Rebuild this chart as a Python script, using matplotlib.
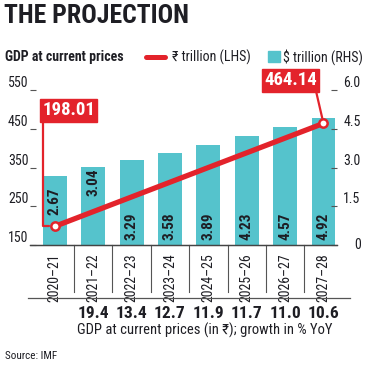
import numpy as np
import matplotlib
matplotlib.use('Agg')
import matplotlib.pyplot as plt
import matplotlib.transforms as mtransforms
from matplotlib.lines import Line2D
from matplotlib.patches import Rectangle

plt.rcParams['font.family'] = ['Roboto Condensed', 'DejaVu Sans']

years = ['2020–21', '2021–22', '2022–23', '2023–24', '2024–25', '2025–26', '2026–27', '2027–28']
usd_trn = [2.67, 3.04, 3.29, 3.58, 3.89, 4.23, 4.57, 4.92]
inr_trn = [198.01, 236.4, 268.1, 302.2, 338.2, 377.8, 419.4, 464.14]
growth = ['19.4', '13.4', '12.7', '11.9', '11.7', '11.0', '10.6']

red = '#e3232b'
cyan = '#55c3cc'
dark = '#1e1e24'

fig = plt.figure(figsize=(3.65, 3.65), dpi=100)
ax2 = fig.add_axes([0.082, 0.329, 0.841, 0.424])
ax = ax2.twinx()
# rupee axis on the left, dollar bars on the right
ax.yaxis.tick_left()
ax2.yaxis.tick_right()

x = np.arange(len(years))
ax2.bar(x, usd_trn, width=0.62, color=cyan, zorder=1)
ax2.set_ylim(0, 6)
ax2.set_xlim(-0.65, 7.35)
ax2.set_yticks([0, 1.5, 3, 4.5, 6])
ax2.set_yticklabels(['0', '1.5', '3.0', '4.5', '6.0'])
ax2.tick_params(axis='y', direction='in', length=4, width=0.8, color='#555555',
                labelsize=10, labelcolor=dark, pad=17)
for lbl in ax2.get_yticklabels():
    lbl.set_ha('right')
    lbl.set_va('bottom')
ax2.get_yticklabels()[0].set_va('center')

for i, v in enumerate(usd_trn):
    if i == 0:
        ax2.text(i, v - 0.45, f'{v:.2f}', rotation=90, ha='center', va='top',
                 fontsize=11, fontweight='bold', color=dark)
    elif i == 1:
        ax2.text(i, v - 0.08, f'{v:.2f}', rotation=90, ha='center', va='top',
                 fontsize=11, fontweight='bold', color=dark)
    else:
        ax2.text(i, 0.18, f'{v:.2f}', rotation=90, ha='center', va='bottom',
                 fontsize=11, fontweight='bold', color=dark)

ax.plot(x[[0, -1]], [inr_trn[0], inr_trn[-1]], color=red, lw=3.8, zorder=3,
        solid_capstyle='round')
ax.plot(x[[0, -1]], [inr_trn[0], inr_trn[-1]], 'o', ms=6, mfc='white', mec=red,
        mew=1.8, zorder=4)
ax.set_ylim(150, 550)
ax.set_yticks([150, 250, 350, 450, 550])
ax.tick_params(axis='y', direction='in', length=4, width=0.8, color='#555555',
               labelsize=10, labelcolor=dark, pad=1)
ax.tick_params(axis='x', bottom=False, labelbottom=False)
for lbl in ax.get_yticklabels():
    lbl.set_va('bottom')

ax.annotate(f'{inr_trn[0]:.2f}', xy=(0, inr_trn[0]), xytext=(0.36, 498),
            ha='center', va='center', fontsize=13.5, fontweight='bold', color='white',
            bbox=dict(boxstyle='square,pad=0.12', fc=red, ec=red),
            arrowprops=dict(arrowstyle='-', color=red, lw=1.6, relpos=(0.02, 0),
                            connectionstyle='angle,angleA=90,angleB=0,rad=0',
                            shrinkA=0, shrinkB=4),
            annotation_clip=False, zorder=5)
ax.annotate(f'{inr_trn[-1]:.2f}', xy=(7, inr_trn[-1]), xytext=(6.15, 575),
            ha='center', va='center', fontsize=13.5, fontweight='bold', color='white',
            bbox=dict(boxstyle='square,pad=0.12', fc=red, ec=red),
            arrowprops=dict(arrowstyle='-', color=red, lw=1.6, relpos=(0.97, 0),
                            shrinkA=0, shrinkB=4),
            annotation_clip=False, zorder=5)

for a in (ax, ax2):
    for s in ('top', 'left', 'right'):
        a.spines[s].set_visible(False)
    a.spines['bottom'].set_color('#444444')
    a.spines['bottom'].set_linewidth(0.9)

ax2.set_xticks(x)
ax2.set_xticklabels(years, rotation=90, fontsize=10, color=dark)
ax2.tick_params(axis='x', length=0, pad=6)

# separators under the axis between the years
trans = mtransforms.blended_transform_factory(ax2.transData, ax2.transAxes)
for i in range(len(years) - 1):
    ax2.plot([i + 0.5, i + 0.5], [0, -0.305], color='#555555', lw=0.8,
             transform=trans, clip_on=False)
fig.add_artist(Line2D([0.077, 0.959], [0.184, 0.184], color='#555555', lw=0.9))

gtrans = mtransforms.blended_transform_factory(ax2.transData, fig.transFigure)
for i, g in enumerate(growth):
    ax2.text(i + 1, 0.141, g, transform=gtrans, ha='center', va='center',
             fontsize=12.5, fontweight='bold', color=dark)
fig.text(0.91, 0.096, 'GDP at current prices (in ₹); growth in % YoY', ha='right',
         va='center', fontsize=10.5, color=dark)
fig.text(0.014, 0.025, 'Source: IMF', ha='left', va='center', fontsize=8, color=dark)

fig.text(0.012, 0.956, 'THE PROJECTION', ha='left', va='center', fontsize=18.5,
         fontweight='bold', color=dark)
fig.text(0.014, 0.843, 'GDP at current prices', ha='left', va='center', fontsize=10,
         fontweight='bold', color=dark)
fig.add_artist(Line2D([0.40, 0.452], [0.843, 0.843], color=red, lw=3.6,
                      solid_capstyle='round'))
fig.text(0.471, 0.843, '₹ trillion (LHS)', ha='left', va='center', fontsize=10, color=dark)
fig.add_artist(Rectangle((0.734, 0.829), 0.033, 0.03, color=cyan))
fig.text(0.776, 0.843, '$ trillion (RHS)', ha='left', va='center', fontsize=10, color=dark)

fig.savefig('out.png', dpi=100)
